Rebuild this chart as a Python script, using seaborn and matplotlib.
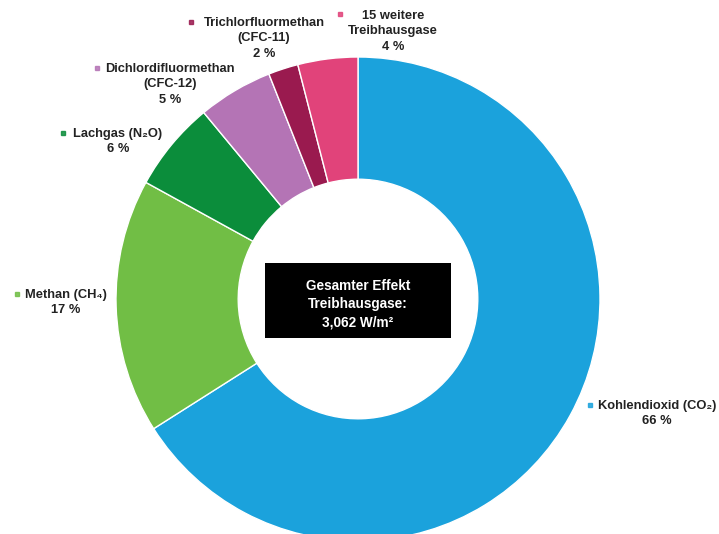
import matplotlib
matplotlib.use("Agg")
import matplotlib.pyplot as plt
import seaborn as sns

# Anteile am gesamten Strahlungsantrieb der Treibhausgase (in %)
gases = [
    "Kohlendioxid (CO₂)",
    "Methan (CH₄)",
    "Lachgas (N₂O)",
    "Dichlordifluormethan\n(CFC-12)",
    "Trichlorfluormethan\n(CFC-11)",
    "15 weitere\nTreibhausgase",
]
shares = [66, 17, 6, 5, 2, 4]
hex_colors = ["#1ba2dc", "#71be45", "#0b8d3b", "#b474b5", "#9a1a4f", "#e1437a"]
total_label = "Gesamter Effekt\nTreibhausgase:\n3,062 W/m²"

# label anchor (text centre x, first line y) and bullet position, in pixels from top-left
label_pos = [(657, 405), (66, 294), (118, 133), (170, 68), (264, 22), (393, 15)]
bullet_pos = [(590, 405), (17, 294), (63, 133), (97, 68), (191, 22), (340, 14)]

W, H = 719, 534
CX, CY, R = 358, 299, 242

sns.set_theme(style="white")
plt.rcParams["font.family"] = ["Liberation Sans", "DejaVu Sans"]
palette = sns.color_palette(hex_colors)

fig = plt.figure(figsize=(W / 100, H / 100), dpi=100)
ax = fig.add_axes([0, 0, 1, 1])

ax.pie(
    shares,
    colors=palette,
    startangle=90,
    counterclock=False,
    radius=1.0,
    wedgeprops=dict(width=0.505, edgecolor="white", linewidth=1.0),
    frame=True,
)
ax.set_xlim(-CX / R, (W - CX) / R)
ax.set_ylim(-(H - CY) / R, CY / R)
ax.set_axis_off()


def to_fig(px, py):
    return px / W, 1 - py / H


for name, share, col, (lx, ly), (bx, by) in zip(gases, shares, palette, label_pos, bullet_pos):
    fx, fy = to_fig(lx, ly - 5)
    fig.text(fx, fy, f"{name}\n{share} %", ha="center", va="top",
             fontsize=9.3, fontweight="bold", color="#222222", linespacing=1.38)
    bfx, bfy = to_fig(bx, by)
    fig.lines.append(plt.Line2D([bfx], [bfy], marker="s", markersize=3.0,
                                color=col, alpha=0.85, transform=fig.transFigure))

# centre box with the total effect
x0, y0 = to_fig(265, 338)
x1, y1 = to_fig(451, 263)
fig.patches.append(plt.Rectangle((x0, y0), x1 - x0, y1 - y0, facecolor="black",
                                 edgecolor="none", transform=fig.transFigure))
tx, ty = to_fig(358, 304)
fig.text(tx, ty, total_label, ha="center", va="center", color="white",
         fontsize=9.8, fontweight="bold", linespacing=1.4)

fig.savefig("out.png", dpi=100)
